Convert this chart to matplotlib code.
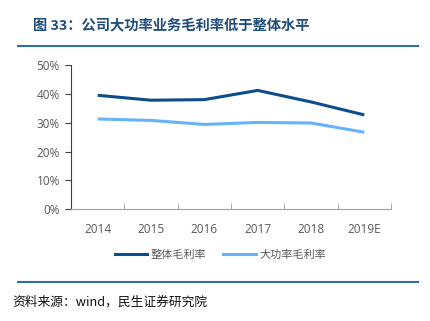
import matplotlib
matplotlib.use("Agg")
import matplotlib.pyplot as plt
from matplotlib.lines import Line2D

plt.rcParams['font.family'] = ['Noto Sans CJK SC', 'DejaVu Sans']

# 数据
years = ["2014", "2015", "2016", "2017", "2018", "2019E"]
overall = [39.5, 37.8, 38.0, 41.2, 37.2, 32.7]
high_power = [31.3, 30.8, 29.4, 30.1, 29.9, 26.7]
yticks = [0, 10, 20, 30, 40, 50]

dark = "#0e4d8b"
light = "#66b3f7"
grey = "#595959"

fig = plt.figure(figsize=(4.30, 3.21), dpi=100)
ax = fig.add_axes([0.1651, 0.348, 0.7442, 0.4495])

x = list(range(len(years)))
ax.plot(x, overall, color=dark, lw=2.2, solid_capstyle="butt")
ax.plot(x, high_power, color=light, lw=2.2, solid_capstyle="butt")

ax.set_xlim(-0.5, len(years) - 0.5)
ax.set_ylim(0, 50)
ax.set_yticks(yticks)
ax.set_yticklabels([f"{v}%" for v in yticks], family=["Open Sans", "DejaVu Sans"])
ax.set_xticks(x)
ax.set_xticklabels(years, family=["Open Sans", "DejaVu Sans"])
ax.set_xticks([i - 0.5 for i in range(len(years) + 1)], minor=True)
ax.tick_params(axis="x", which="major", length=0, pad=10, labelsize=8.5, labelcolor=grey)
ax.tick_params(axis="x", which="minor", length=4, color="#a0a0a0", direction="in")
ax.tick_params(axis="y", length=4, color="#404040", labelsize=8.5, labelcolor=grey, pad=4)

for s in ["top", "right"]:
    ax.spines[s].set_visible(False)
ax.spines["left"].set_color("#404040")
ax.spines["bottom"].set_color("#a0a0a0")

# 图例
handles = [Line2D([], [], color=dark, lw=2.2), Line2D([], [], color=light, lw=2.2)]
fig.legend(handles, ["整体毛利率", "大功率毛利率"], loc="center", bbox_to_anchor=(0.512, 0.205),
           ncol=2, frameon=False, fontsize=8, labelcolor=grey, handlelength=2.9,
           handletextpad=0.3, columnspacing=1.6)

# 标题和来源
fig.text(0.077, 0.922, "图 33：公司大功率业务毛利率低于整体水平", fontsize=10.3, fontweight="bold",
         color="#1f4e79", va="center")
fig.add_artist(Line2D([0.042, 0.972], [0.858, 0.858], color="#2f6ea5", lw=1.5))
fig.add_artist(Line2D([0.042, 0.972], [0.121, 0.121], color="#2f6ea5", lw=1.5))
fig.text(0.028, 0.06, "资料来源：wind，民生证券研究院", fontsize=9.2, color="#111111", va="center")

fig.savefig("out.png", dpi=100)
